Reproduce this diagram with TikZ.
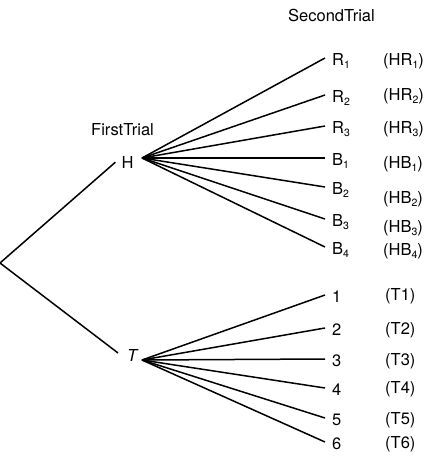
\documentclass[tikz,border=0pt]{standalone}
\usepackage{fontspec}
\setmainfont{TeX Gyre Heros}
\newcommand\sbs[1]{\raisebox{-3.5pt}{\fontsize{10.5}{10.5}\selectfont #1}}
\tikzset{
  lbl/.style={font=\fontsize{16.5}{16.5}\selectfont, inner sep=0pt, anchor=base west},
  leaf/.style={font=\fontsize{16.5}{16.5}\selectfont, inner xsep=7pt, inner ysep=0pt,
    text height=14pt, text depth=0pt, anchor=base west},
  res/.style={font=\fontsize{16.5}{16.5}\selectfont, inner sep=0pt, anchor=base west},
  branch/.style={line width=1.5pt},
}
\begin{document}
\begin{tikzpicture}[x=1pt,y=-1pt]
\useasboundingbox (0,0) rectangle (431,456);
% headings
\node[lbl] (first) at (91,135) {FirstTrial};
\node[lbl] (second) at (288,21) {SecondTrial};
% root and first level
\coordinate (root) at (0,263);
\node[font=\fontsize{16.5}{16.5}\selectfont, inner xsep=6pt, inner ysep=0pt,
  text height=11.5pt, text depth=0pt, anchor=base] (H) at (127.5,168) {H};
\node[font=\fontsize{16.5}{16.5}\selectfont, inner xsep=9pt, inner ysep=0pt,
  text height=16pt, text depth=0pt, anchor=base] (T) at (133,361) {\textit{T}};
\coordinate (hj) at (142,158);
\coordinate (tj) at (142,360);
\draw[branch] (H.west) -- (root) -- (T.west);
% second level after H
\node[leaf] (R1) at (325,65) {R\sbs{1}};
\node[leaf] (R2) at (325,102) {R\sbs{2}};
\node[leaf] (R3) at (325,133) {R\sbs{3}};
\node[leaf] (B1) at (325,165) {B\sbs{1}};
\node[leaf] (B2) at (325,194) {B\sbs{2}};
\node[leaf] (B3) at (325,226) {B\sbs{3}};
\node[leaf] (B4) at (325,254) {B\sbs{4}};
\foreach \n in {R1,R2,R3,B1,B2,B3,B4}{\draw[branch] (hj) -- (\n.west);}
% second level after T
\node[leaf] (d1) at (325,302) {1};
\node[leaf] (d2) at (325,335) {2};
\node[leaf] (d3) at (325,366) {3};
\node[leaf] (d4) at (325,395) {4};
\node[leaf] (d5) at (325,425) {5};
\node[leaf] (d6) at (325,449) {6};
\foreach \n in {d1,d2,d3,d4,d5,d6}{\draw[branch] (tj) -- (\n.west);}
% outcomes
\node[res] (hr1) at (383,65) {(HR\sbs{1})};
\node[res] (hr2) at (383,100) {(HR\sbs{2})};
\node[res] (hr3) at (383,133) {(HR\sbs{3})};
\node[res] (hb1) at (383,168) {(HB\sbs{1})};
\node[res] (hb2) at (383,203) {(HB\sbs{2})};
\node[res] (hb3) at (383,232) {(HB\sbs{3})};
\node[res] (hb4) at (383,255) {(HB\sbs{4})};
\node[res] (t1) at (385,300) {(T1)};
\node[res] (t2) at (385,334) {(T2)};
\node[res] (t3) at (385,365) {(T3)};
\node[res] (t4) at (385,393) {(T4)};
\node[res] (t5) at (385,424) {(T5)};
\node[res] (t6) at (385,448) {(T6)};
\end{tikzpicture}
\end{document}
